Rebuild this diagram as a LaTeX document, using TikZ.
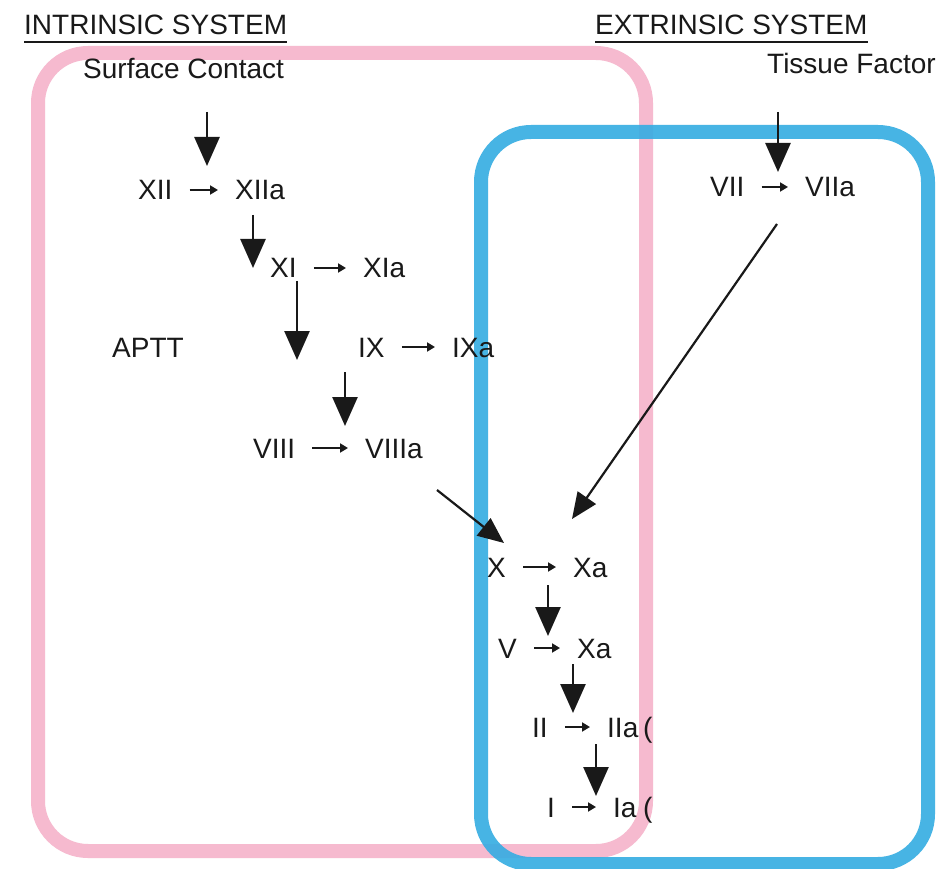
\documentclass[tikz,border=0pt]{standalone}
\usepackage{fontspec}
\setmainfont{Liberation Sans}
\usetikzlibrary{arrows.meta}
\definecolor{boxpink}{RGB}{246,186,207}
\definecolor{boxblue}{RGB}{52,172,226}
\definecolor{ink}{RGB}{25,25,25}
\begin{document}
\begin{tikzpicture}[x=1pt,y=-1pt,
  lbl/.style={anchor=west,inner sep=0pt,text=ink,font=\fontsize{28}{30}\selectfont,text height=20pt,text depth=0pt},
  hdr/.style={lbl},
  bigarrow/.style={draw=ink,line width=2.6pt,-{Triangle[width=25pt,length=29pt]}},
  diagarrow/.style={draw=ink,line width=2.2pt,-{Triangle[width=22pt,length=26pt]}},
  smallarrow/.style={draw=ink,line width=1.8pt,-{Triangle[width=9pt,length=8pt]},shorten <=17pt,shorten >=17pt},
  frame/.style={line width=14pt,rounded corners=50pt}]
\useasboundingbox (0,0) rectangle (951,869);
\fill[white] (0,0) rectangle (951,869);

% the two pathway frames
\draw[frame,boxpink] (38,53) rectangle (646,851);
\draw[frame,boxblue,draw opacity=0.9] (481,132) rectangle (928,864);

% headings
\node[hdr] (intr) at (24,25) {INTRINSIC SYSTEM};
\draw[ink,line width=2pt] ([yshift=-7pt]intr.south west) -- ([yshift=-7pt]intr.south east);
\node[hdr] (extr) at (595,25) {EXTRINSIC SYSTEM};
\draw[ink,line width=2pt] ([yshift=-7pt]extr.south west) -- ([yshift=-7pt]extr.south east);
\node[lbl] (sc) at (83,69) {Surface Contact};
\node[lbl] (tf) at (767,64) {Tissue Factor};

% factors
\node[lbl] (xii) at (138,190) {XII};
\node[lbl] (xiia) at (235,190) {XIIa};
\node[lbl] (xi) at (270,268) {XI};
\node[lbl] (xia) at (363,268) {XIa};
\node[lbl] (aptt) at (112,347) {APTT};
\node[lbl] (ix) at (358,347) {IX};
\node[lbl] (ixa) at (452,347) {IXa};
\node[lbl] (viii) at (253,448) {VIII};
\node[lbl] (viiia) at (365,448) {VIIIa};
\node[lbl] (vii) at (710,187) {VII};
\node[lbl] (viia) at (805,187) {VIIa};
\node[lbl] (x) at (487,567) {X};
\node[lbl] (xa) at (573,567) {Xa};
\node[lbl] (v) at (498,648) {V};
\node[lbl] (xb) at (577,648) {Xa};
\node[lbl] (ii) at (532,727) {II};
\node[lbl] (iia) at (607,727) {IIa};
\node[lbl] (pa) at (643,727) {(};
\node[lbl] (i) at (547,807) {I};
\node[lbl] (ia) at (613,807) {Ia};
\node[lbl] (pb) at (643,807) {(};

% activation steps within each row
\draw[smallarrow] (xii.east) -- (xiia.west);
\draw[smallarrow] (xi.east) -- (xia.west);
\draw[smallarrow] (ix.east) -- (ixa.west);
\draw[smallarrow] (viii.east) -- (viiia.west);
\draw[smallarrow] (vii.east) -- (viia.west);
\draw[smallarrow] (x.east) -- (xa.west);
\draw[smallarrow] (v.east) -- (xb.west);
\draw[smallarrow] (ii.east) -- (iia.west);
\draw[smallarrow] (i.east) -- (ia.west);

% cascade arrows
\coordinate (s1) at (207,112); \coordinate (e1) at (207,166);
\coordinate (s2) at (253,215); \coordinate (e2) at (253,268);
\coordinate (s3) at (297,281); \coordinate (e3) at (297,360);
\coordinate (s4) at (345,372); \coordinate (e4) at (345,426);
\coordinate (s5) at (778,112); \coordinate (e5) at (778,172);
\coordinate (s6) at (548,585); \coordinate (e6) at (548,636);
\coordinate (s7) at (573,664); \coordinate (e7) at (573,713);
\coordinate (s8) at (596,744); \coordinate (e8) at (596,796);
\coordinate (s9) at (437,490); \coordinate (e9) at (504,543);
\coordinate (s10) at (777,224); \coordinate (e10) at (572,519);
\draw[bigarrow] (s1) -- (e1);
\draw[bigarrow] (s2) -- (e2);
\draw[bigarrow] (s3) -- (e3);
\draw[bigarrow] (s4) -- (e4);
\draw[bigarrow] (s5) -- (e5);
\draw[bigarrow] (s6) -- (e6);
\draw[bigarrow] (s7) -- (e7);
\draw[bigarrow] (s8) -- (e8);
\draw[diagarrow] (s9) -- (e9);
\draw[diagarrow] (s10) -- (e10);
\end{tikzpicture}
\end{document}
